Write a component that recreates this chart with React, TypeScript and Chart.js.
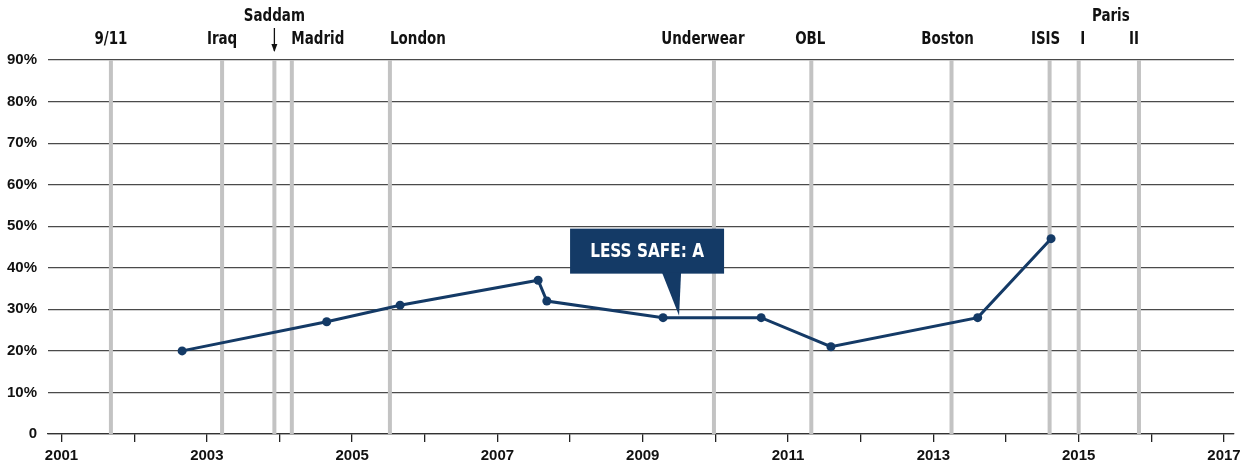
import React, { useEffect, useRef } from "react";
import { Chart, registerables } from "chart.js";

Chart.register(...registerables);

// ---- data ----
const surveyDates = [2002.66, 2004.65, 2005.66, 2007.56, 2007.68, 2009.28, 2010.63, 2011.59, 2013.61, 2014.62];
const lessSafe = [20, 27, 31, 37, 32, 28, 28, 21, 28, 47];

const eventNames = ["9/11", "Iraq", "Saddam", "Madrid", "London", "Underwear", "OBL", "Boston", "ISIS", "I", "II"];
const eventDates = [2001.68, 2003.21, 2003.93, 2004.17, 2005.52, 2009.98, 2011.32, 2013.25, 2014.6, 2015.0, 2015.83];

const yTickValues = [0, 10, 20, 30, 40, 50, 60, 70, 80, 90];
const xTickYears = [2001, 2002, 2003, 2004, 2005, 2006, 2007, 2008, 2009, 2010, 2011, 2012, 2013, 2014, 2015, 2016, 2017];

const annotationText = "LESS SAFE: A";
const annotationDate = 2009.5;
const annotationValue = 28;

// ---- styling ----
const NAVY = "#143a66";
const TEXT = "#111111";
const FONT_REG = '"Liberation Sans", Arial, sans-serif';
const FONT_NARROW = '"Liberation Sans Narrow", "DejaVu Sans Condensed", "Liberation Sans", sans-serif';
// label horizontal offsets (px) and rows for the event labels
const labelDx = [0, 0, 0, 26, 28, -11, -1, -4, -4, 4, -5];
const labelRow = ["low", "low", "high", "low", "low", "low", "low", "low", "low", "low", "low"];

function condensedText(ctx: CanvasRenderingContext2D, text: string, x: number, y: number, sx: number) {
  ctx.save();
  ctx.translate(x, y);
  ctx.scale(sx, 1);
  ctx.fillText(text, 0, 0);
  ctx.restore();
}

const eventsPlugin = {
  id: "events",
  beforeDatasetsDraw(chart: any) {
    const { ctx, chartArea, scales } = chart;
    ctx.save();
    ctx.strokeStyle = "#c3c3c3";
    ctx.lineWidth = 4;
    eventDates.forEach((d) => {
      const x = scales.x.getPixelForValue(d);
      ctx.beginPath();
      ctx.moveTo(x, chartArea.top);
      ctx.lineTo(x, chartArea.bottom);
      ctx.stroke();
    });
    ctx.restore();
  },
  afterDraw(chart: any) {
    const { ctx, scales } = chart;
    ctx.save();
    ctx.fillStyle = TEXT;
    ctx.font = `bold 17px ${FONT_NARROW}`;
    ctx.textAlign = "center";
    ctx.textBaseline = "middle";
    eventNames.forEach((name, i) => {
      const x = scales.x.getPixelForValue(eventDates[i]);
      const y = labelRow[i] === "high" ? 17 : 40;
      condensedText(ctx, name, x + labelDx[i], y, 0.88);
      if (labelRow[i] === "high") {
        ctx.strokeStyle = TEXT;
        ctx.lineWidth = 1.3;
        ctx.beginPath();
        ctx.moveTo(x, 28);
        ctx.lineTo(x, 51);
        ctx.stroke();
        ctx.beginPath();
        ctx.moveTo(x - 3, 44);
        ctx.lineTo(x, 52);
        ctx.lineTo(x + 3, 44);
        ctx.closePath();
        ctx.fill();
      }
    });
    // group label for Paris
    const p1 = scales.x.getPixelForValue(eventDates[9]);
    const p2 = scales.x.getPixelForValue(eventDates[10]);
    condensedText(ctx, "Paris", (p1 + p2) / 2 + 2, 17, 0.88);
    ctx.restore();
  },
  afterDatasetsDraw(chart: any) {
    const { ctx, scales } = chart;
    const tx = scales.x.getPixelForValue(annotationDate);
    const ty = scales.y.getPixelForValue(annotationValue);
    const left = tx - 109;
    const right = tx + 45;
    const top = ty - 89;
    const bottom = ty - 44;
    ctx.save();
    ctx.fillStyle = NAVY;
    ctx.fillRect(left, top, right - left, bottom - top);
    ctx.beginPath();
    ctx.moveTo(tx - 17, bottom - 1);
    ctx.lineTo(tx + 2, bottom - 1);
    ctx.lineTo(tx, ty - 2);
    ctx.closePath();
    ctx.fill();
    ctx.fillStyle = "#ffffff";
    ctx.font = `bold 20px ${FONT_NARROW}`;
    ctx.textAlign = "center";
    ctx.textBaseline = "middle";
    condensedText(ctx, annotationText, (left + right) / 2, (top + bottom) / 2 + 1, 0.85);
    ctx.restore();
  },
};

export default function App() {
  const ref = useRef<HTMLCanvasElement>(null);
  useEffect(() => {
    document.body.style.margin = "0";
    const canvas = ref.current!;
    const chart = new Chart(canvas, {
      type: "line",
      data: {
        datasets: [
          {
            label: "Less safe",
            data: surveyDates.map((d, i) => ({ x: d, y: lessSafe[i] })),
            borderColor: NAVY,
            backgroundColor: NAVY,
            borderWidth: 3,
            pointRadius: 4.5,
            pointHoverRadius: 4.5,
            pointBorderWidth: 0,
            tension: 0,
          },
        ],
      },
      options: {
        animation: false,
        responsive: false,
        devicePixelRatio: 1,
        layout: { padding: { top: 60, right: 22, left: 0, bottom: 0 } },
        plugins: { legend: { display: false }, tooltip: { enabled: false } },
        scales: {
          x: {
            type: "linear",
            min: 2000.814,
            max: 2017.138,
            afterBuildTicks: (scale: any) => {
              scale.ticks = xTickYears.map((v) => ({ value: v }));
            },
            afterFit: (scale: any) => {
              scale.height = 34;
            },
            grid: {
              drawOnChartArea: false,
              drawTicks: true,
              tickLength: 8,
              color: "#222",
              lineWidth: 1.3,
            },
            border: { display: true, color: "#333", width: 1.3 },
            ticks: {
              autoSkip: false,
              maxRotation: 0,
              padding: 5,
              color: TEXT,
              font: { family: FONT_REG, size: 15, weight: "bold" },
              callback: (v: any) => (Number(v) % 2 === 1 ? String(v) : ""),
            },
          },
          y: {
            min: 0,
            max: 90,
            afterBuildTicks: (scale: any) => {
              scale.ticks = yTickValues.map((v) => ({ value: v }));
            },
            afterFit: (scale: any) => {
              scale.width = 48;
            },
            grid: { color: "#4a4a4a", lineWidth: 1.2, drawTicks: false },
            border: { display: false },
            ticks: {
              padding: 11,
              color: TEXT,
              font: { family: FONT_REG, size: 15, weight: "bold" },
              callback: (v: any) => (Number(v) === 0 ? "0" : `${v}%`),
            },
          },
        },
      },
      plugins: [eventsPlugin],
    });
    return () => chart.destroy();
  }, []);
  return (
    <div style={{ width: 1256, height: 468, background: "#fff" }}>
      <canvas ref={ref} width={1256} height={468} />
    </div>
  );
}
